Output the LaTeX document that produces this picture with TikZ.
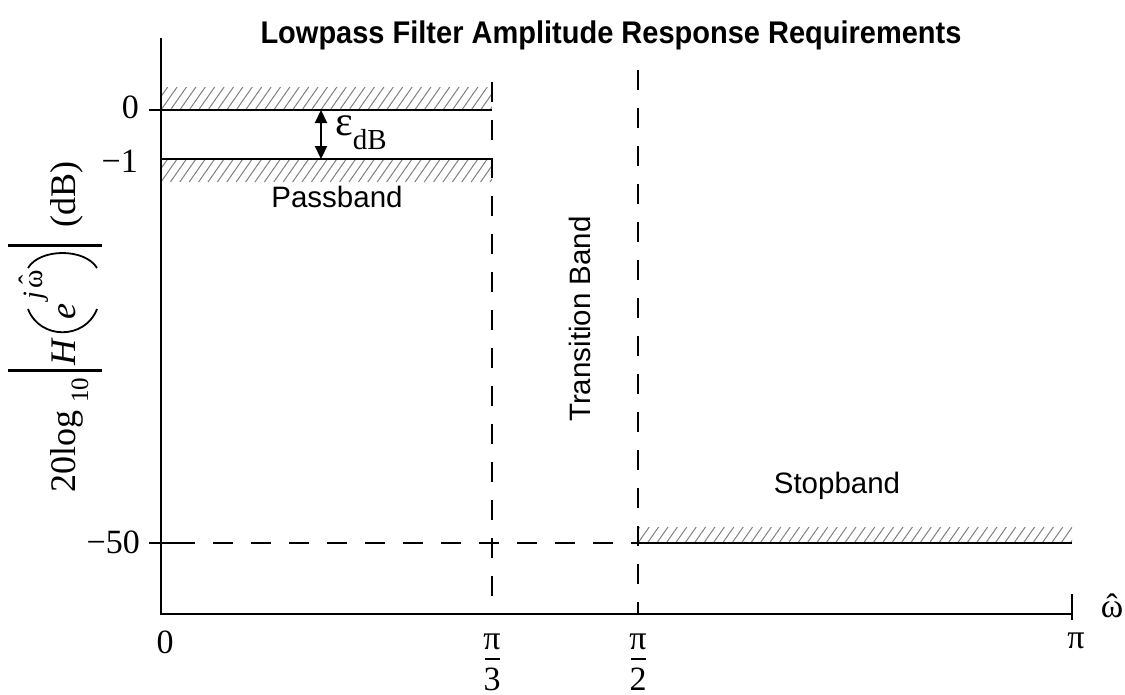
\documentclass[tikz,border=0pt]{standalone}
\usepackage{fontspec}
\setmainfont{Liberation Serif}
\setsansfont{Liberation Sans}
\usetikzlibrary{arrows.meta}
\newcommand\omhat[1][0pt]{\ooalign{ω\cr\hidewidth\raisebox{#1}{ˆ}\hidewidth\cr}}
\newcommand\hatchbox[4]{%
  \begin{scope}
    \clip (#1,#2) rectangle (#3,#4);
    \foreach \k in {-3,...,50}
      \draw[hatchln] ({#1+\k*9.4},#4) -- ++({0.7*(#4-#2)},{#2-#4});
  \end{scope}}
\tikzset{
  axisline/.style={line width=2.5pt},
  thinline/.style={line width=1.3pt},
  dashline/.style={line width=2.3pt, dash pattern=on 20pt off 18pt},
  hatchln/.style={draw=gray, line width=1pt},
  barline/.style={line width=3pt},
  parenline/.style={line width=1.8pt},
  seriflbl/.style={font=\fontsize{34}{36}\selectfont, inner sep=0pt},
  sanslbl/.style={font=\sffamily\fontsize{29.5}{32}\selectfont, inner sep=0pt},
  titlelbl/.style={font=\sffamily\bfseries\fontsize{29}{32}\selectfont, inner sep=0pt},
  ylbl/.style={rotate=90, inner sep=0pt, font=\fontsize{36}{40}\selectfont},
  ylsub/.style={rotate=90, inner sep=0pt, font=\fontsize{25}{28}\selectfont},
  ylsup/.style={rotate=90, inner sep=0pt, font=\fontsize{28}{30}\selectfont},
  dblarrow/.style={line width=2.2pt, {Triangle[width=12pt,length=13pt]}-{Triangle[width=12pt,length=13pt]}}
}
\begin{document}
\begin{tikzpicture}[x=1pt,y=-1pt]
\useasboundingbox (0,0) rectangle (1125,694);

% hatched regions
\hatchbox{161}{87}{492}{110}
\hatchbox{161}{159}{492}{182}
\hatchbox{638}{527}{1072}{543}

% axes
\coordinate (O) at (161,614);
\coordinate (Ytop) at (161,38);
\coordinate (Xend) at (1072,614);
\draw[axisline] (Ytop) -- (O) -- (Xend);
\draw[axisline] (1072,594) -- (1072,620);

% passband limits
\draw[thinline] (149,110) -- (492,110);
\draw[axisline] (149,110) -- (175,110);
\draw[axisline] (161,159) -- (492,159);

% stopband limit
\draw[axisline] (149,543) -- (175,543);
\draw[dashline] (175,543) -- (638,543);
\draw[axisline] (638,543) -- (1072,543);

% band edges
\draw[dashline] (492,82) -- (492,614);
\draw[dashline] (638,70) -- (638,614);

% epsilon arrow
\coordinate (ea) at (321,110);
\coordinate (eb) at (321,159);
\draw[dblarrow] (ea) -- (eb);
\node[anchor=base west, inner sep=0pt, font=\fontsize{42}{44}\selectfont] (eps) at (335,135)
  {ε\raisebox{-14pt}{\fontsize{29}{30}\selectfont dB}};

% y tick labels
\node[seriflbl, anchor=base east] (l0) at (139,118) {0};
\node[seriflbl, anchor=base east] (lm1) at (138,172) {−1};
\node[seriflbl, anchor=base east] (lm50) at (140,553) {−50};

% x tick labels
\node[seriflbl, anchor=base] (x0) at (165,653) {0};
\node[seriflbl, anchor=base] (p3n) at (492,649) {π};
\draw[line width=2pt] (485,659) -- (500,659);
\node[seriflbl, anchor=base] (p3d) at (492,690) {3};
\node[seriflbl, anchor=base] (p2n) at (638,649) {π};
\draw[line width=2pt] (631,659) -- (646,659);
\node[seriflbl, anchor=base] (p2d) at (638,690) {2};
\node[seriflbl, anchor=base] (xpi) at (1076,648) {π};
\node[seriflbl, anchor=base] (wlab) at (1112,617) {\omhat};

% band labels
\node[sanslbl, anchor=base] (pass) at (337,207) {Passband};
\node[sanslbl, anchor=base] (stop) at (837,493) {Stopband};
\node[sanslbl, anchor=base, rotate=90] (trans) at (590,319) {Transition Band};

% title
\node[titlelbl, anchor=base] (title) at (611,43) {\scalebox{1}[1.08]{Lowpass Filter Amplitude Response Requirements}};

% y axis label: 20log10 |H(e^{j omega-hat})| (dB)
\node[ylbl, anchor=base west] (ylA) at (75,493) {20log};
\node[ylsub, anchor=base west] (ylB) at (88,403) {10};
\draw[barline] (8,370) -- (102,370);
\node[ylbl, anchor=base west] (ylC) at (75,366) {\textit{H}};
\draw[parenline] (28,309) .. controls (40,340) and (85,340) .. (97,309);
\node[ylbl, anchor=base west] (ylD) at (75,320) {\textit{e}};
\node[ylsup, anchor=base west] (ylE) at (42,300) {\textit{j}};
\node[ylsup, anchor=base west] (ylF) at (42,289) {\omhat[4pt]};
\draw[parenline] (28,268) .. controls (40,248) and (85,248) .. (97,268);
\draw[barline] (8,245) -- (102,245);
\node[ylbl, anchor=base west] (ylG) at (75,228) {(dB)};
\end{tikzpicture}
\end{document}
